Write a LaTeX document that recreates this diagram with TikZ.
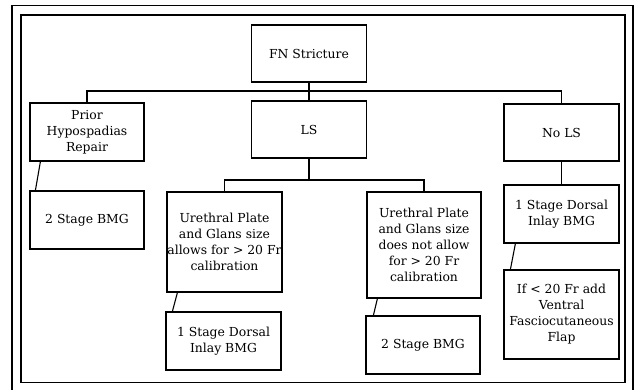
\documentclass[tikz,border=0pt]{standalone}
\usepackage{fontspec}
\setmainfont{DejaVu Serif}
\usetikzlibrary{calc}
\begin{document}
\begin{tikzpicture}[x=1pt,y=-1pt,
		box/.style={draw,line width=1.2pt,align=center,inner sep=0pt,
			minimum width=115pt,minimum height=58pt,
			font=\fontsize{12.4pt}{16pt}\selectfont},
		link/.style={line width=1.1pt}]
	\useasboundingbox (0,0) rectangle (636,389);
	
	% Frames
	\draw[line width=1.3pt] (12,395) -- (12,5.7) -- (633,5.7) -- (633,395);
	\draw[line width=1.6pt] (21,14.7) rectangle (625,382.5);
	
	% Top row
	\node[box,minimum height=57pt] (fn) at (309,53.5) {FN Stricture};
	\node[box,minimum width=114pt] (prior) at (87,132) {Prior\\Hypospadias\\Repair};
	\node[box,minimum height=57pt] (ls) at (309,129.5) {LS};
	\node[box,minimum height=57pt] (nols) at (561.5,132.5) {No LS};
	
	% Second row
	\node[box,minimum width=114pt] (bmgleft) at (87,220) {2 Stage BMG};
	\node[box,minimum height=100pt] (allow) at (224.5,242) {Urethral Plate\\and Glans size\\allows for > 20 Fr\\calibration};
	\node[box,minimum width=114pt,minimum height=106pt] (notallow) at (424,245) {Urethral Plate\\and Glans size\\does not allow\\for > 20 Fr\\calibration};
	\node[box] (dorsalright) at (561.5,214) {1 Stage Dorsal\\Inlay BMG};
	
	% Bottom row
	\node[box] (dorsalmid) at (223.5,341) {1 Stage Dorsal\\Inlay BMG};
	\node[box,minimum width=114pt] (bmgmid) at (423,345) {2 Stage BMG};
	\node[box,minimum height=89pt] (flap) at (561.5,314.5) {If < 20 Fr add\\Ventral\\Fasciocutaneous\\Flap};
	
	% Connectors
	\coordinate (split1) at (309,91);
	\coordinate (split2) at (309,180);
	\draw[link] (fn.south) -- (ls.north);
	\draw[link] (prior.north) |- (split1) -| (nols.north);
	\draw[link] (ls.south) -- (split2);
	\draw[link] (allow.north) |- (split2) -| (notallow.north);
	\draw[link] (nols.south) -- (dorsalright.north);
	\draw[link] ($(prior.south west)+(11,0)$) -- ($(bmgleft.north west)+(6,0)$);
	\draw[link] ($(allow.south west)+(11,0)$) -- ($(dorsalmid.north west)+(7,0)$);
	\draw[link] ($(notallow.south west)+(11,0)$) -- ($(bmgmid.north west)+(8,0)$);
	\draw[link] ($(dorsalright.south west)+(12,0)$) -- ($(flap.north west)+(7,0)$);
\end{tikzpicture}
\end{document}
